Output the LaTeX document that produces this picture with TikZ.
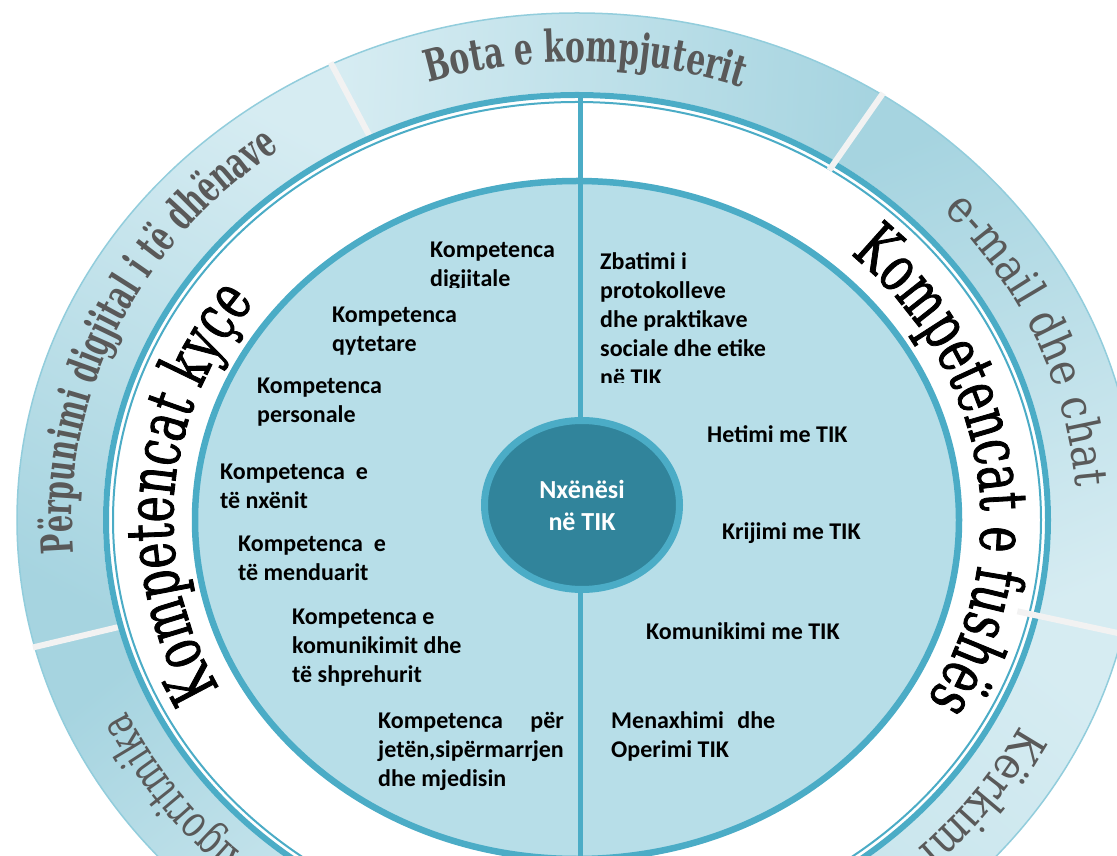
\documentclass[tikz,border=0pt]{standalone}
\usepackage{fontspec}
\usepackage{calc}
\usetikzlibrary{calc,shapes.geometric,decorations.text}
\setmainfont{Carlito}
\newfontfamily\bandSerif[FakeStretch=0.68]{DejaVu Serif}
\newfontfamily\bandSerifTight[FakeStretch=0.62]{DejaVu Serif}
\newfontfamily\plainSerif[FakeStretch=0.87]{DejaVu Serif}
\newfontfamily\narrowSerif[FakeStretch=0.72]{DejaVu Serif}
\newfontfamily\ringSerif[FakeStretch=0.67, FakeBold=1.2]{DejaVu Serif}

\definecolor{tealline}{HTML}{4BACC6}
\definecolor{diskfill}{HTML}{B7DEE8}
\definecolor{hubfill}{HTML}{31849B}
\definecolor{bandlight}{HTML}{D6ECF2}
\definecolor{bandmid}{HTML}{C2E2EA}
\definecolor{banddark}{HTML}{A6D4E0}
\definecolor{bandedge}{HTML}{92CDDC}
\definecolor{labelgray}{HTML}{595959}
\definecolor{gapgray}{HTML}{F2F2F2}

\newcommand{\bandBold}{\bandSerif\bfseries\fontsize{44}{46}\selectfont\color{labelgray}}
\newcommand{\bandBoldTight}{\bandSerifTight\bfseries\fontsize{44}{46}\selectfont\color{labelgray}}
\newcommand{\bandPlain}{\plainSerif\fontsize{46}{48}\selectfont\color{labelgray}}
\newcommand{\bandNarrow}{\narrowSerif\fontsize{46}{48}\selectfont\color{labelgray}}
\newcommand{\ringBig}{\ringSerif\fontsize{66}{68}\selectfont\color{black}}

% one piece of the outer band: from, to, light colour, dark colour, shading angle
\newcommand{\bandSector}[5]{%
  \shade[top color=#3, bottom color=#4, shading angle=#5]
    ($(c)+(#1:474 and 428)$) arc[start angle=#1, end angle=#2, x radius=474, y radius=428]
    -- ($(c)+(#2:560 and 507)$) arc[start angle=#2, end angle=#1, x radius=560, y radius=507]
    -- cycle;
}
% text on an elliptic arc: x radius, y radius, from, to, align, text
\newcommand{\ringLabel}[6]{%
  \path[decorate, decoration={text along path, text align=#5, text={#6}}]
    ($(c)+(#3:#1 and #2)$) arc[start angle=#3, end angle=#4, x radius=#1, y radius=#2];
}

\begin{document}
\begin{tikzpicture}[x=1pt, y=1pt,
  item/.style={anchor=base west, align=left, inner sep=0pt,
    font=\fontsize{24}{29}\selectfont\bfseries},
  hub/.style={ellipse, fill=hubfill, draw=tealline, line width=7pt,
    minimum width=195pt, minimum height=169pt, inner sep=0pt,
    text=white, align=center, font=\fontsize{26}{32}\selectfont\bfseries},
  gap/.style={draw=gapgray, line width=6pt},
  spoke/.style={draw=tealline, line width=5pt}]
  \useasboundingbox[fill=white] (0,0) rectangle (1117,855);
  \clip (0,0) rectangle (1117,855);
  \coordinate (c) at (577,335);

  % outer band
  \bandSector{116}{194.5}{bandlight}{banddark}{-28}
  \bandSector{57}{116}{bandlight}{banddark}{86.5}
  \bandSector{-13}{57}{bandlight}{banddark}{-158}
  \bandSector{-80}{-13}{bandlight}{bandmid}{-38}
  \bandSector{194.5}{260}{bandlight}{banddark}{-141}
  \draw[bandedge, line width=1.5pt] (c) ellipse[x radius=560, y radius=507];
  \draw[gap] ($(c)+(116:474 and 428)$) -- ($(c)+(116:562 and 509)$);
  \draw[gap] ($(c)+(194.5:474 and 428)$) -- ($(c)+(194.5:562 and 509)$);

  \draw[tealline, line width=6pt] (c) ellipse[x radius=471, y radius=425];
  \draw[tealline, line width=2pt] (c) ellipse[x radius=464, y radius=418];
  \draw[gap] ($(c)+(57:463 and 417)$) -- ($(c)+(57:562 and 509)$);
  \draw[gap] ($(c)+(-13:452 and 406)$) -- ($(c)+(-13:562 and 509)$);

  % inner disk
  \draw[tealline, fill=diskfill, line width=6.5pt] (c) ellipse[x radius=382, y radius=339];

  \coordinate (spoketop) at (580,757);
  \coordinate (spokebot) at (580,-20);
  \draw[spoke] (spoketop) -- (spokebot);
  \node[hub] (hub) at (582,350) {Nxënësi\\në TIK};

  % key competences
  \begin{scope}
    \clip (400,567.5) rectangle (600,640);
    \node[item] (kdig) at (430,568) {Kompetenca\\digjitale};
  \end{scope}
  \node[item] (kqyt) at (332,503) {Kompetenca\\qytetare};
  \node[item] (kpers) at (257,432) {Kompetenca\\personale};
  \node[item] (knxen) at (220,346) {Kompetenca\ \ e\\të nxënit};
  \node[item] (kmend) at (238,274) {Kompetenca\ \ e\\të menduarit};
  \node[item] (kkom) at (292,172) {Kompetenca e\\komunikimit dhe\\të shprehurit};
  \node[item] (kjet) at (378,69)
    {\makebox[\widthof{jetën,sipërmarrjen}][s]{Kompetenca\hfill për}\\jetën,sipërmarrjen\\dhe mjedisin};

  % field competences
  \begin{scope}
    \clip (590,472) rectangle (800,620);
    \node[item] (zbat) at (600,469)
      {Zbatimi i\\protokolleve\\dhe praktikave\\sociale dhe etike\\në TIK};
  \end{scope}
  \node[item] (het) at (707,412) {Hetimi me TIK};
  \node[item] (krij) at (722,315) {Krijimi me TIK};
  \node[item] (komun) at (646,215) {Komunikimi me TIK};
  \node[item] (menax) at (611,98)
    {\makebox[164pt][s]{Menaxhimi\hfill dhe}\\Operimi TIK};

  % ring titles
  \ringLabel{404}{361}{223.5}{127.5}{center}{|\ringBig|Kompetencat kyçe}
  \ringLabel{404}{361}{56.6}{-39.4}{center}{|\ringBig|Kompetencat e fushës}

  % band titles
  \ringLabel{505}{458}{124}{54}{center}{|\bandBold|Bota e kompjuterit}
  \ringLabel{505}{458}{194.5}{116.5}{center}{|\bandBoldTight|Përpunimi digjital i të dhënave}
  \ringLabel{500}{455}{59}{-13}{center}{|\bandPlain|e-mail dhe chat}
  \ringLabel{497}{452}{-27}{-90}{left}{|\bandPlain|Kërkimi}
  \ringLabel{497}{452}{270}{205}{right}{|\bandNarrow|Algoritmika}
\end{tikzpicture}
\end{document}
